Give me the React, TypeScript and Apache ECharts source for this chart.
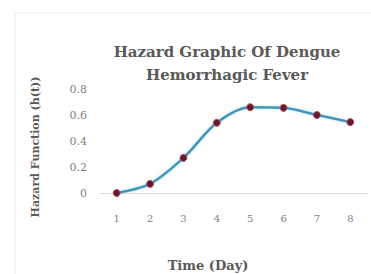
import React, { useEffect, useRef } from "react";
import * as echarts from "echarts";

const days = ["1", "2", "3", "4", "5", "6", "7", "8"];
const hazard = [0.0, 0.07, 0.27, 0.54, 0.66, 0.655, 0.6, 0.545];
const yTicks = [0, 0.2, 0.4, 0.6, 0.8];

const titleText = "Hazard Graphic Of Dengue\nHemorrhagic Fever";
const xName = "Time (Day)";
const yName = "Hazard Function (h(t))";

export default function App() {
  const ref = useRef<HTMLDivElement>(null);
  useEffect(() => {
    if (!ref.current) return;
    const chart = echarts.init(ref.current, null, { renderer: "svg" });
    const font = "DejaVu Serif";
    chart.setOption({
      animation: false,
      backgroundColor: "#ffffff",
      textStyle: { fontFamily: font },
      title: {
        text: titleText,
        left: 222,
        top: 35,
        textAlign: "center",
        textStyle: {
          fontFamily: font,
          fontSize: 15,
          fontWeight: "bold",
          color: "#595959",
          lineHeight: 23,
        },
      },
      graphic: [
        {
          type: "rect",
          shape: { x: 15, y: 13, width: 370, height: 270 },
          style: { fill: "none", stroke: "#ececec", lineWidth: 1 },
          silent: true,
        },
        {
          type: "text",
          x: 208,
          y: 265,
          style: {
            text: xName,
            fontFamily: font,
            fontSize: 13,
            fontWeight: "bold",
            fill: "#595959",
            align: "center",
            verticalAlign: "middle",
          },
        },
        {
          type: "text",
          x: 35,
          y: 147,
          rotation: Math.PI / 2,
          style: {
            text: yName,
            fontFamily: font,
            fontSize: 11,
            fontWeight: "bold",
            fill: "#595959",
            align: "center",
            verticalAlign: "middle",
          },
        },
      ],
      grid: { left: 100, right: 4, top: 89, bottom: 81 },
      xAxis: {
        type: "category",
        data: days,
        boundaryGap: true,
        axisLine: { show: true, lineStyle: { color: "#d9d9d9", width: 1 } },
        axisTick: { show: false },
        axisLabel: { color: "#7f7f7f", fontSize: 10, margin: 20, fontFamily: font },
      },
      yAxis: {
        type: "value",
        min: 0,
        max: 0.8,
        interval: 0.2,
        axisLine: { show: false },
        axisTick: { show: false },
        splitLine: { show: false },
        axisLabel: {
          color: "#7f7f7f",
          fontSize: 11,
          margin: 13,
          fontFamily: font,
          formatter: (v: number) => (yTicks.includes(Math.round(v * 10) / 10) ? String(Math.round(v * 10) / 10) : ""),
        },
      },
      series: [
        {
          type: "line",
          data: hazard,
          smooth: 0.3,
          symbol: "circle",
          symbolSize: 7,
          lineStyle: { color: "#4593b8", width: 2.5, shadowColor: "#a6e3f5", shadowBlur: 3 },
          itemStyle: { color: "#5e1c2e", borderColor: "#c24c66", borderWidth: 1 },
        },
      ],
    });
    return () => chart.dispose();
  }, []);
  return (
    <div
      ref={ref}
      style={{ position: "fixed", left: 0, top: 0, width: 371, height: 274 }}
    />
  );
}
